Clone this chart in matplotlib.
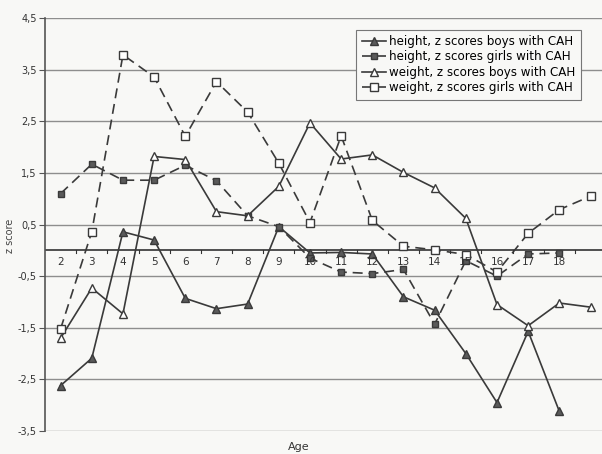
import numpy as np
import matplotlib
matplotlib.use('Agg')
from matplotlib import pyplot as plt

# Age groups and z scores per group
ages = list(range(2, 20))
age_labels = [str(a) for a in range(2, 19)]

height_boys = [-2.62, -2.09, 0.36, 0.20, -0.93, -1.13, -1.04, 0.46, -0.05,
               -0.04, -0.07, -0.90, -1.16, -2.00, -2.95, -1.57, -3.12]
height_girls = [1.10, 1.67, 1.36, 1.36, 1.65, 1.35, 0.67, 0.46, -0.15,
                -0.42, -0.45, -0.37, -1.43, -0.20, -0.50, -0.07, -0.05]
weight_boys = [-1.70, -0.73, -1.23, 1.82, 1.76, 0.75, 0.67, 1.24, 2.47,
               1.77, 1.85, 1.51, 1.21, 0.62, -1.05, -1.46, -1.02, -1.10]
weight_girls = [-1.52, 0.36, 3.79, 3.36, 2.21, 3.27, 2.68, 1.69, 0.54,
                2.22, 0.58, 0.08, 0.01, -0.08, -0.42, 0.33, 0.79, 1.05]

yticks = [4.5, 3.5, 2.5, 1.5, 0.5, -0.5, -1.5, -2.5, -3.5]

line_col = '#3a3a3a'
fill_col = '#5a5a5a'
bg = '#f8f8f6'

fig = plt.figure(figsize=(6.02, 4.54), dpi=100, facecolor=bg)
ax = fig.add_axes([0.0748, 0.0507, 0.932, 0.9093], facecolor=bg)

dash = (0, (6, 3.5))
ax.plot(ages[:len(height_boys)], height_boys, color=line_col, lw=1.2,
        marker='^', ms=5.5, mfc=fill_col, mec=line_col,
        label='height, z scores boys with CAH')
ax.plot(ages[:len(height_girls)], height_girls, color=line_col, lw=1.2,
        ls=dash, marker='s', ms=5, mfc=fill_col, mec=line_col,
        label='height, z scores girls with CAH')
ax.plot(ages, weight_boys, color=line_col, lw=1.2,
        marker='^', ms=6, mfc='white', mec=line_col, mew=1.0,
        label='weight, z scores boys with CAH')
ax.plot(ages, weight_girls, color=line_col, lw=1.2,
        ls=dash, marker='s', ms=5.5, mfc='white', mec=line_col, mew=1.0,
        label='weight, z scores girls with CAH')

ax.set_xlim(1.5, 19.5)
ax.set_ylim(-3.5, 4.5)

# horizontal grid and the zero axis line
for y in yticks:
    ax.axhline(y, color='#8e8e8e', lw=1.0, zorder=0)
ax.axhline(0, color='#333333', lw=1.2, zorder=1)

ax.set_yticks(yticks)
ax.set_yticklabels([('%.1f' % v).replace('.', ',') for v in yticks],
                   fontsize=7, color='#333333')
ax.tick_params(axis='y', length=4, color='#555555', pad=2)

ax.set_xticks([])
for a, lab in zip(ages, age_labels):
    ax.text(a, -0.22, lab, ha='center', va='center', fontsize=7.5,
            color='#333333')
for b in np.arange(2.5, 19.5, 1.0):
    ax.plot([b, b], [0, -0.06], color='#333333', lw=0.8)

for s in ['top', 'right', 'bottom']:
    ax.spines[s].set_visible(False)
ax.spines['left'].set_color('#555555')
ax.spines['left'].set_linewidth(1.2)

fig.text(0.016, 0.48, 'z score', rotation=90, ha='center', va='center',
         fontsize=7, color='#444444')
fig.text(0.497, 0.015, 'Age', ha='center', va='center', fontsize=8,
         color='#333333')

leg = ax.legend(loc='upper right', bbox_to_anchor=(0.955, 0.972),
                fontsize=8.6, frameon=True, fancybox=False, handlelength=2.0,
                handletextpad=0.3, borderpad=0.45, labelspacing=0.2,
                borderaxespad=0, framealpha=1)
leg.get_frame().set_edgecolor('#777777')
leg.get_frame().set_facecolor(bg)
leg.get_frame().set_linewidth(0.8)

fig.savefig('out.png', dpi=100, facecolor=bg)
